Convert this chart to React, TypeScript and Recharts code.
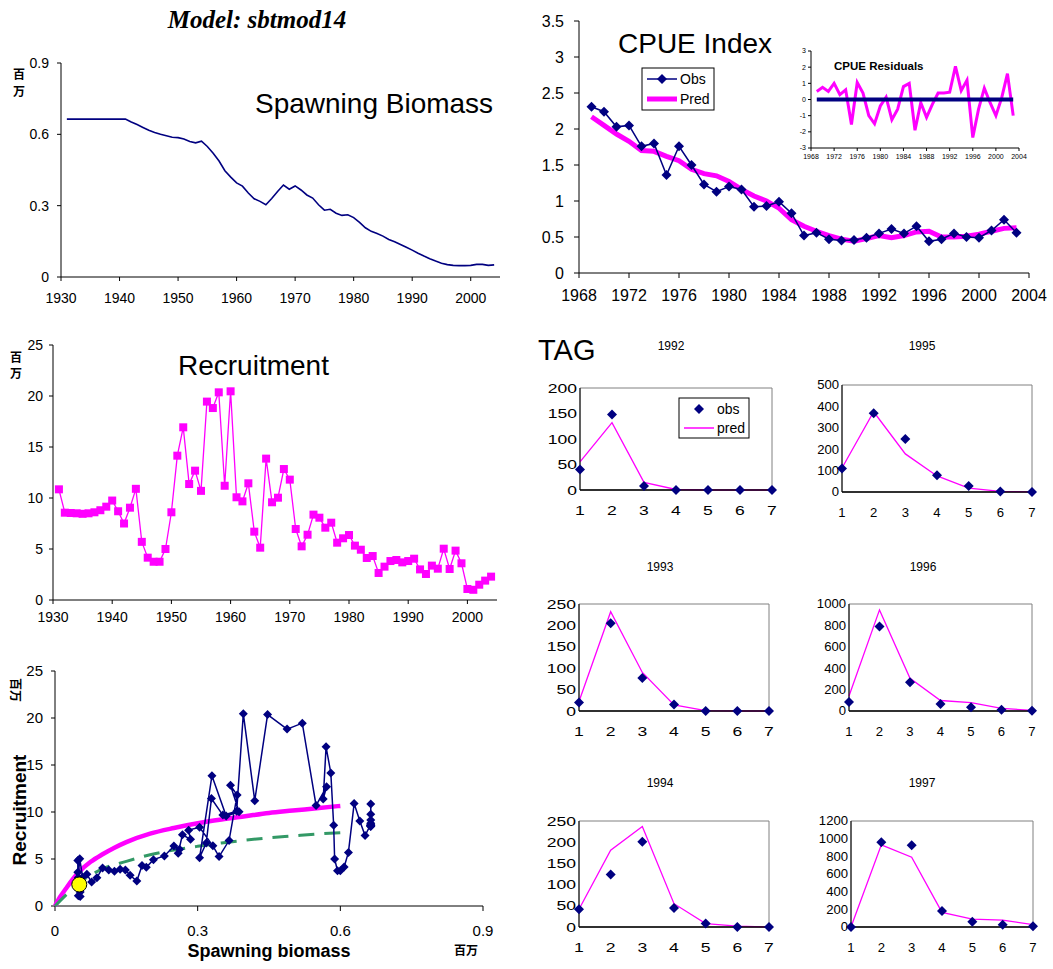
import React from "react";
import {
  LineChart,
  Line,
  XAxis,
  YAxis,
  ScatterChart,
  Scatter,
  ReferenceArea,
} from "recharts";

const SANS = '"Liberation Sans", Arial, sans-serif';
const SERIF = '"Liberation Serif", "Times New Roman", serif';
const CJK = '"Noto Sans CJK SC", "Noto Sans CJK JP", sans-serif';
const NAVY = "#000080";
const MAGENTA = "#FF00FF";
const GREEN = "#339966";
const INK = "#000";

// ---- stock trajectory, 1931-2004 ----
const FIRST_YEAR = 1931;
const spawningBiomass = [
  0.664, 0.664, 0.664, 0.664, 0.664, 0.664, 0.664, 0.664, 0.664, 0.664, 0.664,
  0.652, 0.641, 0.629, 0.617, 0.608, 0.6, 0.594, 0.588, 0.586,
  0.58, 0.57, 0.564, 0.571, 0.549, 0.52, 0.488, 0.447, 0.42, 0.396,
  0.382, 0.353, 0.329, 0.318, 0.304, 0.33, 0.36, 0.387, 0.369, 0.383,
  0.366, 0.345, 0.332, 0.304, 0.281, 0.285, 0.268, 0.259, 0.262, 0.25,
  0.23, 0.207, 0.192, 0.183, 0.172, 0.158, 0.148, 0.137, 0.125, 0.113,
  0.1, 0.088, 0.077, 0.067, 0.058, 0.052, 0.049, 0.048, 0.048, 0.049,
  0.053, 0.053, 0.049, 0.051,
];
const recruitment = [
  10.85, 8.56, 8.53, 8.5, 8.45, 8.5, 8.6, 8.8, 9.15, 9.75,
  8.7, 7.5, 9.05, 10.9, 5.7, 4.15, 3.75, 3.75, 5.0, 8.6,
  14.15, 16.93, 11.37, 12.68, 10.7, 19.45, 18.82, 20.36, 11.2, 20.46,
  10.07, 9.67, 11.44, 6.7, 5.13, 13.86, 9.58, 10.03, 12.84, 11.8,
  6.96, 5.26, 6.4, 8.37, 8.07, 7.09, 7.58, 5.62, 6.05, 6.37,
  5.33, 4.93, 4.12, 4.31, 2.65, 3.27, 3.82, 3.92, 3.69, 3.82,
  4.05, 3.0, 2.55, 3.37, 3.07, 5.03, 3.04, 4.84, 3.6, 1.08,
  1.0, 1.5, 1.9, 2.29,
];
const decadeTicks = [1930, 1940, 1950, 1960, 1970, 1980, 1990, 2000];
const biomassTicks = [0, 0.3, 0.6, 0.9];
const recruitTicks = [0, 5, 10, 15, 20, 25];

// ---- CPUE index, 1969-2003 ----
const CPUE_FIRST_YEAR = 1969;
const cpueObs = [
  2.31, 2.24, 2.03, 2.05, 1.76, 1.8, 1.36, 1.76, 1.5, 1.23,
  1.13, 1.2, 1.16, 0.92, 0.93, 0.99, 0.83, 0.52, 0.56, 0.47,
  0.45, 0.46, 0.49, 0.55, 0.61, 0.55, 0.65, 0.44, 0.47, 0.55,
  0.5, 0.49, 0.59, 0.74, 0.56,
];
const cpuePred = [
  2.17, 2.05, 1.93, 1.83, 1.7, 1.69, 1.62, 1.56, 1.44, 1.38,
  1.35, 1.27, 1.16, 1.07, 1.0, 0.9, 0.74, 0.65, 0.58, 0.52,
  0.47, 0.44, 0.48, 0.52, 0.49, 0.52, 0.57, 0.58, 0.5, 0.5,
  0.51, 0.54, 0.58, 0.62, 0.63,
];
const cpueResid = [
  0.5, 0.75, 0.5, 1.0, 0.3, 0.6, -1.55, 1.05, 0.4, -1.0,
  -1.5, -0.4, 0.15, -1.25, -0.6, 0.8, 1.0, -1.9, -0.2, -1.1,
  -0.3, 0.4, 0.4, 0.45, 2.05, 0.55, 1.2, -2.35, -0.6, 0.7,
  -0.2, -1.0, 0.1, 1.6, -1.0,
];
const cpueYearTicks = [1968, 1972, 1976, 1980, 1984, 1988, 1992, 1996, 2000, 2004];
const cpueTicks = [0, 0.5, 1, 1.5, 2, 2.5, 3, 3.5];
const residTicks = [-3, -2, -1, 0, 1, 2, 3];

// ---- stock-recruit curves ----
const bhBiomass = [0, 0.01, 0.025, 0.05, 0.075, 0.1, 0.125, 0.15, 0.2, 0.25, 0.3, 0.35, 0.4, 0.45, 0.5, 0.55, 0.6];
const bhRecruits = [0, 0.9, 2.0, 3.6, 4.7, 5.5, 6.2, 6.8, 7.7, 8.3, 8.8, 9.2, 9.55, 9.9, 10.15, 10.4, 10.65];
const altBiomass = [0, 0.03, 0.06, 0.1, 0.15, 0.2, 0.25, 0.3, 0.35, 0.4, 0.45, 0.5, 0.55, 0.6];
const altRecruits = [0, 1.5, 2.8, 3.95, 4.75, 5.45, 5.95, 6.35, 6.7, 7.0, 7.25, 7.45, 7.65, 7.8];

// ---- tag returns by age ----
const tagAges = [1, 2, 3, 4, 5, 6, 7];
const tag1992Obs = [40, 148, 8, 0, 0, 0, 0];
const tag1992Pred = [55, 132, 15, 1, 0, 0, 0];
const tag1992Ticks = [0, 50, 100, 150, 200];
const tag1993Obs = [20, 205, 77, 15, 0, 0, 0];
const tag1993Pred = [22, 232, 90, 14, 1, 0, 0];
const tag1993Ticks = [0, 50, 100, 150, 200, 250];
const tag1994Obs = [42, 124, 201, 45, 8, 0, 0];
const tag1994Pred = [42, 181, 237, 55, 8, 2, 0];
const tag1994Ticks = [0, 50, 100, 150, 200, 250];
const tag1995Obs = [110, 368, 248, 78, 28, 2, 0];
const tag1995Pred = [112, 375, 178, 75, 18, 3, 1];
const tag1995Ticks = [0, 100, 200, 300, 400, 500];
const tag1996Obs = [85, 790, 268, 65, 35, 12, 3];
const tag1996Pred = [140, 945, 305, 98, 78, 25, 6];
const tag1996Ticks = [0, 200, 400, 600, 800, 1000];
const tag1997Obs = [0, 960, 925, 180, 60, 25, 8];
const tag1997Pred = [0, 930, 790, 165, 88, 78, 27];
const tag1997Ticks = [0, 200, 400, 600, 800, 1000, 1200];

const stockRows = spawningBiomass.map((ssb, i) => ({
  year: FIRST_YEAR + i,
  ssb,
  rec: recruitment[i],
}));
const cpueRows = cpueObs.map((obs, i) => ({
  year: CPUE_FIRST_YEAR + i,
  obs,
  pred: cpuePred[i],
  resid: cpueResid[i],
}));
const srRows = stockRows.map((d) => ({ s: d.ssb, r: d.rec }));
const latestSr = [srRows[srRows.length - 1]];
const bhRows = bhBiomass.map((s, i) => ({ s, r: bhRecruits[i] }));
const altRows = altBiomass.map((s, i) => ({ s, r: altRecruits[i] }));

type Box = { x0: number; y0: number; x1: number; y1: number };

// chart sized so its plot area lands on box
function frame(b: Box, yw: number, xh: number, top = 12, right = 24) {
  return {
    pos: { position: "absolute" as const, left: b.x0 - yw, top: b.y0 - top },
    width: yw + (b.x1 - b.x0) + right,
    height: top + (b.y1 - b.y0) + xh,
    margin: { top, right, bottom: 0, left: 0 },
  };
}

const diamondPoints = (cx: number, cy: number, r: number) =>
  `${cx},${cy - r} ${cx + r},${cy} ${cx},${cy + r} ${cx - r},${cy}`;

const diamondDot = (r: number) => (p: any) =>
  p.cx == null ? (
    <g key={`dm-${p.index}`} />
  ) : (
    <polygon key={`dm-${p.index}`} points={diamondPoints(p.cx, p.cy, r)} fill={NAVY} />
  );

const squareDot = (p: any) =>
  p.cx == null ? (
    <g key={`sq-${p.index}`} />
  ) : (
    <rect key={`sq-${p.index}`} x={p.cx - 4} y={p.cy - 4} width={8} height={8} fill={MAGENTA} />
  );

const axisStyle = { stroke: INK };

function BiomassPanel() {
  const f = frame({ x0: 61, y0: 63, x1: 500, y1: 277 }, 50, 34);
  return (
    <div style={f.pos}>
      <LineChart width={f.width} height={f.height} margin={f.margin} data={stockRows}>
        <XAxis dataKey="year" type="number" domain={[1930, 2005]} ticks={decadeTicks} interval={0}
          tickSize={4} tickMargin={12} height={34} axisLine={axisStyle} tickLine={axisStyle}
          tick={{ fontSize: 14, fill: INK }} />
        <YAxis type="number" domain={[0, 0.9]} ticks={biomassTicks} interval={0} width={50}
          tickSize={4} tickMargin={8} axisLine={axisStyle} tickLine={axisStyle}
          tick={{ fontSize: 14, fill: INK }} />
        <Line dataKey="ssb" stroke={NAVY} strokeWidth={1.6} dot={false} isAnimationActive={false} />
      </LineChart>
    </div>
  );
}

function CpuePanel() {
  const f = frame({ x0: 579, y0: 21, x1: 1029, y1: 273 }, 50, 36);
  return (
    <div style={f.pos}>
      <LineChart width={f.width} height={f.height} margin={f.margin} data={cpueRows}>
        <XAxis dataKey="year" type="number" domain={[1968, 2004]} ticks={cpueYearTicks} interval={0}
          tickSize={5} tickMargin={12} height={36} axisLine={axisStyle} tickLine={axisStyle}
          tick={{ fontSize: 16, fill: INK }} />
        <YAxis type="number" domain={[0, 3.5]} ticks={cpueTicks} interval={0} width={50}
          tickSize={5} tickMargin={10} axisLine={axisStyle} tickLine={axisStyle}
          tick={{ fontSize: 16, fill: INK }} />
        <Line dataKey="pred" stroke={MAGENTA} strokeWidth={5} dot={false} isAnimationActive={false} />
        <Line dataKey="obs" stroke={NAVY} strokeWidth={1.5} dot={diamondDot(5)} activeDot={false}
          isAnimationActive={false} />
      </LineChart>
    </div>
  );
}

function ResidualInset() {
  const f = frame({ x0: 811, y0: 51, x1: 1019, y1: 148 }, 20, 16, 6, 14);
  return (
    <div style={f.pos}>
      <LineChart width={f.width} height={f.height} margin={f.margin} data={cpueRows}>
        <XAxis dataKey="year" type="number" domain={[1968, 2004]} ticks={cpueYearTicks} interval={0}
          tickSize={3} tickMargin={3} height={16} axisLine={axisStyle} tickLine={axisStyle}
          tick={{ fontSize: 7, fill: INK }} />
        <YAxis type="number" domain={[-3, 3]} ticks={residTicks} interval={0} width={20}
          tickSize={3} tickMargin={2} axisLine={axisStyle} tickLine={axisStyle}
          tick={{ fontSize: 7, fill: INK }} />
        <Line dataKey="resid" stroke={MAGENTA} strokeWidth={3} dot={false} isAnimationActive={false} />
        <Line dataKey={() => 0} stroke={NAVY} strokeWidth={4} dot={false} isAnimationActive={false} />
      </LineChart>
    </div>
  );
}

function RecruitPanel() {
  const f = frame({ x0: 53, y0: 345, x1: 497, y1: 600 }, 45, 30);
  return (
    <div style={f.pos}>
      <LineChart width={f.width} height={f.height} margin={f.margin} data={stockRows}>
        <XAxis dataKey="year" type="number" domain={[1930, 2005]} ticks={decadeTicks} interval={0}
          tickSize={4} tickMargin={8} height={30} axisLine={axisStyle} tickLine={axisStyle}
          tick={{ fontSize: 14, fill: INK }} />
        <YAxis type="number" domain={[0, 25]} ticks={recruitTicks} interval={0} width={45}
          tickSize={4} tickMargin={6} axisLine={axisStyle} tickLine={axisStyle}
          tick={{ fontSize: 14, fill: INK }} />
        <Line dataKey="rec" stroke={MAGENTA} strokeWidth={1.3} dot={squareDot} activeDot={false}
          isAnimationActive={false} />
      </LineChart>
    </div>
  );
}

function StockRecruitPanel() {
  const f = frame({ x0: 55, y0: 671, x1: 483, y1: 906 }, 45, 40);
  return (
    <div style={f.pos}>
      <ScatterChart width={f.width} height={f.height} margin={f.margin}>
        <XAxis dataKey="s" type="number" domain={[0, 0.9]} ticks={biomassTicks} interval={0}
          tickSize={5} tickMargin={14} height={40} axisLine={axisStyle} tickLine={axisStyle}
          tick={{ fontSize: 15, fill: INK }} />
        <YAxis dataKey="r" type="number" domain={[0, 25]} ticks={recruitTicks} interval={0} width={45}
          tickSize={4} tickMargin={8} axisLine={axisStyle} tickLine={axisStyle}
          tick={{ fontSize: 15, fill: INK }} />
        <Scatter data={bhRows} fill={MAGENTA} lineJointType="monotoneX"
          line={{ stroke: MAGENTA, strokeWidth: 4.5 }} shape={() => <g />} isAnimationActive={false} />
        <Scatter data={altRows} fill={GREEN} lineJointType="monotoneX"
          line={{ stroke: GREEN, strokeWidth: 3, strokeDasharray: "16 10" }} shape={() => <g />}
          isAnimationActive={false} />
        <Scatter data={srRows} fill={NAVY} line={{ stroke: NAVY, strokeWidth: 1.5 }}
          shape={(p: any) => <polygon points={diamondPoints(p.cx, p.cy, 4.5)} fill={NAVY} />}
          isAnimationActive={false} />
        <Scatter data={latestSr} fill="#FFFF00"
          shape={(p: any) => <circle cx={p.cx} cy={p.cy} r={7.5} fill="#FFFF00" stroke={INK} strokeWidth={1} />}
          isAnimationActive={false} />
      </ScatterChart>
    </div>
  );
}

// tick text stretched sideways like the pasted worksheet charts
const stretchedTick = (side: "left" | "bottom", sx: number, size: number) => (p: any) => (
  <text
    transform={`translate(${p.x},${p.y}) scale(${sx},1)`}
    textAnchor={side === "left" ? "end" : "middle"}
    dy={side === "left" ? "0.35em" : "0.71em"}
    fontSize={size}
    fill={INK}
  >
    {p.payload.value}
  </text>
);

const tagSeries = [
  { year: 1992, obs: tag1992Obs, pred: tag1992Pred, ticks: tag1992Ticks },
  { year: 1993, obs: tag1993Obs, pred: tag1993Pred, ticks: tag1993Ticks },
  { year: 1994, obs: tag1994Obs, pred: tag1994Pred, ticks: tag1994Ticks },
  { year: 1995, obs: tag1995Obs, pred: tag1995Pred, ticks: tag1995Ticks },
  { year: 1996, obs: tag1996Obs, pred: tag1996Pred, ticks: tag1996Ticks },
  { year: 1997, obs: tag1997Obs, pred: tag1997Pred, ticks: tag1997Ticks },
];

const tagBoxes: Record<number, Box> = {
  1992: { x0: 580, y0: 388, x1: 772, y1: 490 },
  1993: { x0: 579, y0: 604, x1: 769, y1: 711 },
  1994: { x0: 579, y0: 821, x1: 769, y1: 927 },
  1995: { x0: 842, y0: 385, x1: 1032, y1: 492 },
  1996: { x0: 849, y0: 604, x1: 1032, y1: 711 },
  1997: { x0: 851, y0: 821, x1: 1033, y1: 927 },
};

function TagPanel({ year, obs, pred, ticks }: { year: number; obs: number[]; pred: number[]; ticks: number[] }) {
  const rows = tagAges.map((age, i) => ({ age, obs: obs[i], pred: pred[i] }));
  const top = ticks[ticks.length - 1];
  const leftCol = year < 1995;
  const sx = leftCol ? 1.35 : 1.05;
  const size = leftCol ? 13 : 12.5;
  const f = frame(tagBoxes[year], 48, 34, 10, 14);
  return (
    <div style={f.pos}>
      <LineChart width={f.width} height={f.height} margin={f.margin} data={rows}>
        <ReferenceArea x1={1} x2={7} y1={0} y2={top} fill="none" stroke="#808080" strokeWidth={1} />
        <XAxis dataKey="age" type="number" domain={[1, 7]} ticks={tagAges} interval={0}
          tickLine={false} tickSize={0} tickMargin={16} height={34}
          axisLine={{ stroke: INK, strokeWidth: 1.5 }} tick={stretchedTick("bottom", sx, size)} />
        <YAxis type="number" domain={[0, top]} ticks={ticks} interval={0} width={48}
          tickLine={false} tickSize={0} tickMargin={3} axisLine={axisStyle}
          tick={stretchedTick("left", sx, size)} />
        <Line dataKey="pred" stroke={MAGENTA} strokeWidth={1.3} dot={false} isAnimationActive={false} />
        <Line dataKey="obs" stroke="none" dot={diamondDot(5)} activeDot={false} isAnimationActive={false} />
      </LineChart>
    </div>
  );
}

function Annotations() {
  return (
    <svg width={1053} height={969} style={{ position: "absolute", left: 0, top: 0, pointerEvents: "none" }}>
      <text x={257} y={28} textAnchor="middle" fontFamily={SERIF} fontStyle="italic" fontWeight="bold" fontSize={25}>
        Model: sbtmod14
      </text>

      {/* spawning biomass */}
      <text x={255} y={113} fontSize={28}>Spawning Biomass</text>
      <text x={19} y={79} textAnchor="middle" fontFamily={CJK} fontWeight="bold" fontSize={12}>百</text>
      <text x={19} y={96} textAnchor="middle" fontFamily={CJK} fontWeight="bold" fontSize={12}>万</text>

      {/* CPUE */}
      <text x={618} y={53} fontSize={28}>CPUE Index</text>
      <rect x={642} y={68} width={72} height={42} fill="#fff" stroke={INK} strokeWidth={1} />
      <line x1={647} y1={79} x2={677} y2={79} stroke={NAVY} strokeWidth={1.5} />
      <polygon points={diamondPoints(662, 79, 5)} fill={NAVY} />
      <text x={680} y={84} fontSize={14}>Obs</text>
      <line x1={647} y1={99} x2={677} y2={99} stroke={MAGENTA} strokeWidth={5} />
      <text x={680} y={104} fontSize={14}>Pred</text>
      <text x={834} y={70} fontWeight="bold" fontSize={11.5}>CPUE Residuals</text>

      {/* recruitment */}
      <text x={178} y={375} fontSize={28}>Recruitment</text>
      <text x={16} y={362} textAnchor="middle" fontFamily={CJK} fontWeight="bold" fontSize={12}>百</text>
      <text x={16} y={378} textAnchor="middle" fontFamily={CJK} fontWeight="bold" fontSize={12}>万</text>

      {/* stock-recruit */}
      <text transform="translate(15,690) rotate(90)" textAnchor="middle" dy="0.35em" fontFamily={CJK}
        fontWeight="bold" fontSize={12}>百万</text>
      <text transform="translate(26,810) rotate(-90)" textAnchor="middle" fontWeight="bold" fontSize={19}>
        Recruitment
      </text>
      <text x={269} y={957} textAnchor="middle" fontWeight="bold" fontSize={18}>Spawning biomass</text>
      <text x={466} y={955} textAnchor="middle" fontFamily={CJK} fontWeight="bold" fontSize={12}>百万</text>

      {/* tagging */}
      <text x={538} y={360} fontSize={29}>TAG</text>
      <text x={671} y={350} textAnchor="middle" fontSize={12}>1992</text>
      <text x={922} y={350} textAnchor="middle" fontSize={12}>1995</text>
      <text x={660} y={571} textAnchor="middle" fontSize={12}>1993</text>
      <text x={923} y={571} textAnchor="middle" fontSize={12}>1996</text>
      <text x={660} y={787} textAnchor="middle" fontSize={12}>1994</text>
      <text x={922} y={787} textAnchor="middle" fontSize={12}>1997</text>
      <rect x={679} y={398} width={70} height={40} fill="#fff" stroke={INK} strokeWidth={1} />
      <polygon points={diamondPoints(699, 409, 5)} fill={NAVY} />
      <text x={717} y={414} fontSize={14}>obs</text>
      <line x1={684} y1={428} x2={714} y2={428} stroke={MAGENTA} strokeWidth={1.5} />
      <text x={717} y={433} fontSize={14}>pred</text>
    </svg>
  );
}

export default function App() {
  return (
    <div
      style={{
        position: "absolute",
        left: 0,
        top: 0,
        width: 1053,
        height: 969,
        background: "#fff",
        fontFamily: SANS,
        overflow: "hidden",
      }}
    >
      <BiomassPanel />
      <CpuePanel />
      <ResidualInset />
      <RecruitPanel />
      <StockRecruitPanel />
      {tagSeries.map((t) => (
        <TagPanel key={t.year} {...t} />
      ))}
      <Annotations />
    </div>
  );
}
